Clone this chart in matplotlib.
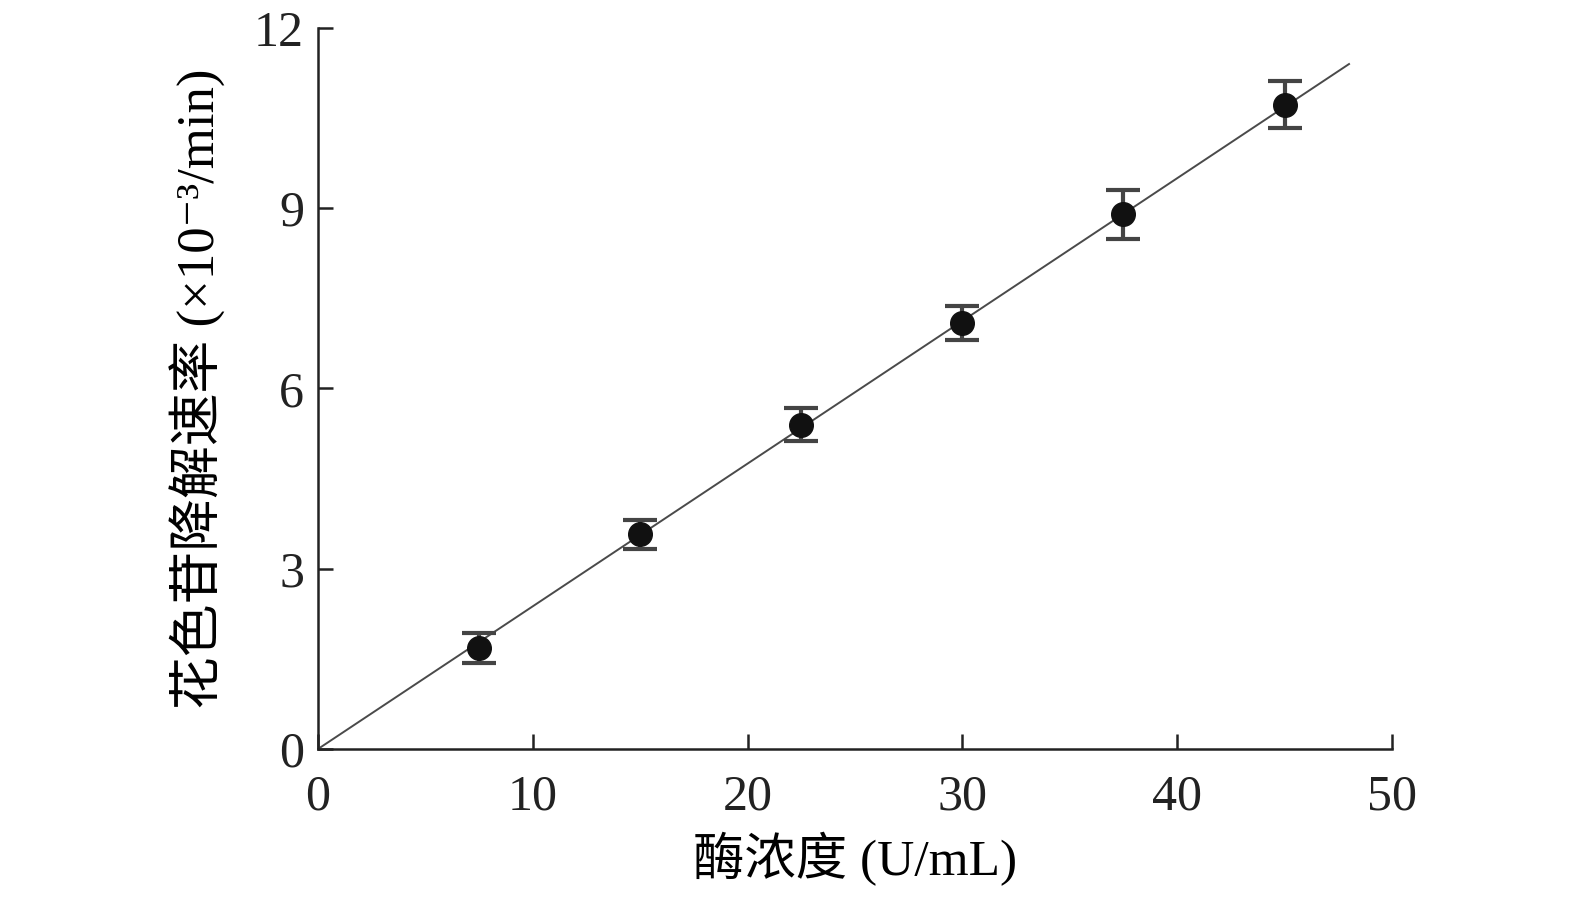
import numpy as np
import matplotlib
matplotlib.use('Agg')
import matplotlib.pyplot as plt

plt.rcParams['font.family'] = ['Liberation Serif', 'Noto Sans CJK SC', 'DejaVu Serif']

# enzyme concentration (U/mL) and degradation rate (x10^-3 /min)
enzyme_conc = [7.5, 15, 22.5, 30, 37.5, 45]
rate = [1.68, 3.57, 5.40, 7.09, 8.90, 10.72]
rate_err = [0.25, 0.24, 0.28, 0.29, 0.41, 0.39]

# fitted line end points
fit_x = [0, 48]
fit_y = [0, 11.4]

x_ticks = [0, 10, 20, 30, 40, 50]
y_ticks = [0, 3, 6, 9, 12]

fig = plt.figure(figsize=(15.75, 8.97), dpi=100)
ax = fig.add_axes([0.2019, 0.165, 0.6819, 0.8038])

ax.plot(fit_x, fit_y, color='#4a4a4a', lw=1.4, zorder=2)
ax.errorbar(enzyme_conc, rate, yerr=rate_err, fmt='o', color='#111111', ms=17,
            ecolor='#444444', elinewidth=3, capsize=12, capthick=3, zorder=3)

ax.set_xlim(0, 50)
ax.set_ylim(0, 12)
ax.set_xticks(x_ticks)
ax.set_yticks(y_ticks)
ax.spines['top'].set_visible(False)
ax.spines['right'].set_visible(False)
for s in ['left', 'bottom']:
    ax.spines[s].set_linewidth(1.8)
    ax.spines[s].set_color('#222222')
ax.tick_params(direction='in', length=11, width=1.8, labelsize=36, pad=10, colors='#222222')
ax.tick_params(axis='x', pad=18)

ax.set_xlabel('酶浓度 (U/mL)', fontsize=37, labelpad=8)
ax.set_ylabel('花色苷降解速率 (×10⁻³/min)', fontsize=38, labelpad=20)

fig.savefig('out.png', dpi=100, facecolor='white')
